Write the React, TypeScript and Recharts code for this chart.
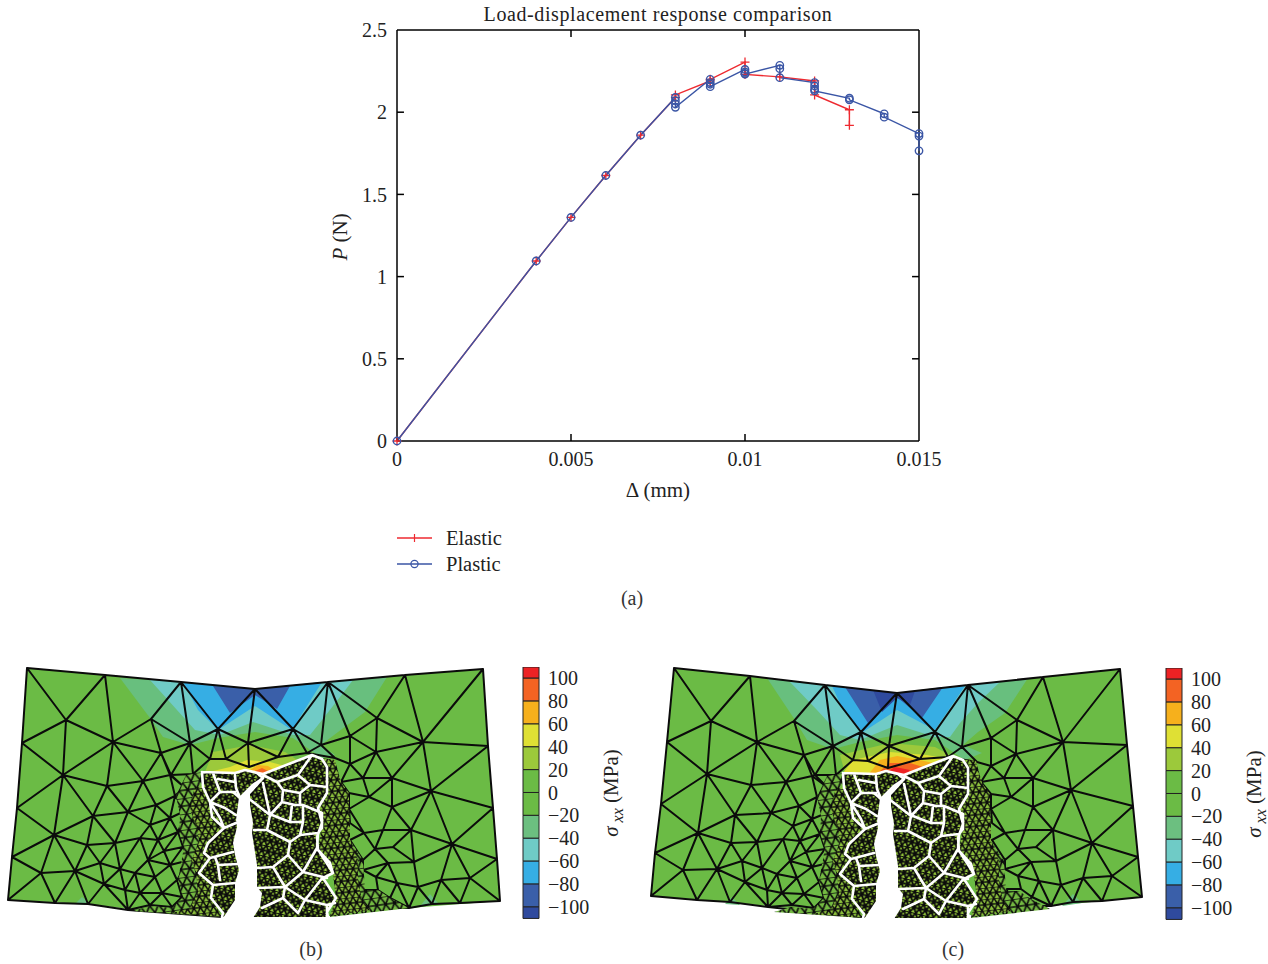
import {
  Bar,
  BarChart,
  Legend,
  Line,
  LineChart,
  ReferenceLine,
  Scatter,
  ScatterChart,
  XAxis,
  YAxis,
} from 'recharts';

const SERIF = '"Liberation Serif", serif';
const RED = '#ee2a30';
const BLUE = '#3a55a5';

// load-displacement curves
const elasticX = [0, 0.004, 0.005, 0.006, 0.007, 0.008, 0.008, 0.009, 0.009, 0.01, 0.01, 0.011, 0.012, 0.012, 0.013, 0.013];
const elasticP = [0, 1.095, 1.36, 1.615, 1.86, 2.09, 2.105, 2.19, 2.2, 2.305, 2.23, 2.215, 2.19, 2.105, 2.015, 1.92];
const plasticX = [0, 0.004, 0.005, 0.006, 0.007, 0.008, 0.008, 0.008, 0.008, 0.009, 0.009, 0.009, 0.009, 0.01, 0.01, 0.01, 0.01, 0.011, 0.011, 0.011, 0.012, 0.012, 0.012, 0.012, 0.013, 0.013, 0.014, 0.014, 0.015, 0.015, 0.015];
const plasticP = [0, 1.095, 1.36, 1.615, 1.86, 2.09, 2.07, 2.05, 2.03, 2.2, 2.18, 2.17, 2.155, 2.26, 2.245, 2.235, 2.232, 2.285, 2.265, 2.21, 2.18, 2.16, 2.14, 2.13, 2.085, 2.075, 1.99, 1.97, 1.87, 1.855, 1.765];
const xTicks = [0, 0.005, 0.01, 0.015];
const yTicks = [0, 0.5, 1, 1.5, 2, 2.5];
const X_MAX = 0.015;
const Y_MAX = 2.5;
// inward tick length in data units, about 7px
const X_TICK_LEN = 0.0002;
const Y_TICK_LEN = 0.043;

// colour scale, stacked outwards from zero
const scaleTicks = [100, 80, 60, 40, 20, 0, -20, -40, -60, -80, -100];
const scaleBands = [20, 20, 20, 20, 20, 10, -20, -20, -20, -20, -20, -10];
const scaleColors = ['#6bbb45', '#9cc93b', '#dfe034', '#f6b01c', '#f36323', '#ed2224', '#6bbb45', '#6cbf80', '#6fcbc6', '#36aee4', '#3a5fa9', '#2f4a9e'];

type Pt = [number, number];

// mesh nodes, panel b
const nodesB: Record<string, Pt> = {
  A: [27, 668], B: [105, 675], C: [181, 682], D: [255, 689], E: [66, 720], F: [22, 743], G: [113, 742], H: [151, 719],
  I: [190, 743], J: [218, 729], K: [248, 743], L: [293, 729], M: [63, 775], N: [17, 808], O: [107, 786], P: [161, 753],
  Q: [143, 781], R: [184, 787], S: [93, 816], T: [128, 812], U: [54, 835], V: [12, 857], W: [8, 900], X: [41, 873],
  Y: [55, 903], Z: [75, 871], a: [87, 845], b: [115, 843], c: [100, 863], d: [104, 884], e: [88, 904], g: [128, 910], h: [120, 869], z: [222, 917],
  v1: [170, 775], v2: [156, 805], v3: [175, 796], v4: [150, 825], v5: [170, 818], v6: [187, 810], v7: [140, 838], v8: [158, 840],
  v9: [178, 832], v10: [193, 825], v11: [164, 851], v12: [183, 847], v13: [199, 840], v14: [148, 860], v15: [170, 865], v16: [190, 860],
  v17: [135, 873], v18: [155, 877], v19: [177, 880], v20: [195, 875], v21: [140, 893], v22: [162, 893], v23: [182, 897], v24: [200, 892],
  v25: [125, 890], v26: [150, 905], v27: [172, 907], v28: [190, 908],
  t1: [210, 759], t2: [226, 759], t3: [278, 757], t4: [249, 767], t5: [307, 753], t6: [171, 775], t7: [193, 774],
  r1: [483, 669], r2: [405, 675], r3: [328, 682], r4: [377, 718], r5: [423, 742], r6: [488, 746], r7: [350, 736], r8: [376, 752],
  r9: [321, 745], r10: [350, 764], r11: [392, 778], r12: [363, 778], r13: [431, 791], r14: [493, 808], r15: [341, 782], r16: [369, 797],
  r17: [392, 807], r18: [349, 793], r19: [349, 809], r20: [350, 823], r21: [411, 830], r22: [383, 830], r23: [364, 833], r24: [452, 844],
  r25: [497, 859], r26: [375, 849], r27: [393, 847], r28: [414, 862], r29: [388, 863], r30: [363, 860], r31: [363, 870], r32: [376, 877],
  r33: [397, 883], r34: [418, 887], r35: [441, 880], r36: [470, 878], r37: [500, 901], r38: [460, 903], r39: [432, 904], r40: [409, 908],
  r41: [390, 898], r42: [378, 890], r43: [365, 890], r44: [367, 900], r45: [380, 908], r46: [350, 840], r47: [335, 758],
};

// mesh nodes, panel c
const nodesC: Record<string, Pt> = {
  A: [674, 668], B: [750, 676], C: [825, 685], D: [897, 693], E: [711, 721], F: [667, 742], G: [757, 742], H: [794, 721],
  I: [833, 746], J: [861, 732], K: [889, 746], L: [935, 732], M: [707, 774], N: [661, 804], O: [751, 785], P: [804, 755],
  Q: [786, 782], R: [827, 787], S: [735, 815], T: [771, 813], U: [698, 833], V: [655, 853], W: [651, 896], X: [683, 870],
  Y: [697, 900], Z: [717, 869], a: [731, 843], b: [757, 842], c: [742, 861], d: [745, 882], e: [730, 902], g: [768, 907], h: [762, 868], z: [862, 917],
  v1: [812, 776], v2: [799, 806], v3: [817, 797], v4: [793, 826], v5: [812, 819], v6: [829, 812], v7: [783, 839], v8: [800, 841],
  v9: [820, 834], v10: [835, 827], v11: [806, 852], v12: [825, 849], v13: [841, 842], v14: [790, 861], v15: [812, 867], v16: [832, 862],
  v17: [777, 874], v18: [797, 878], v19: [819, 882], v20: [837, 877], v21: [782, 893], v22: [804, 894], v23: [824, 898], v24: [842, 894],
  v25: [767, 890], v26: [792, 905], v27: [814, 908], v28: [832, 910],
  t1: [853, 760], t2: [868, 761], t3: [920, 759], t4: [888, 768], t5: [948, 757], t6: [815, 775], t7: [836, 775],
  r1: [1120, 669], r2: [1043, 677], r3: [968, 685], r4: [1017, 720], r5: [1063, 742], r6: [1127, 745], r7: [991, 738], r8: [1016, 754],
  r9: [962, 747], r10: [991, 766], r11: [1033, 778], r12: [1004, 778], r13: [1071, 790], r14: [1133, 806], r15: [981, 782], r16: [1011, 797],
  r17: [1033, 807], r18: [991, 794], r19: [991, 809], r20: [992, 823], r21: [1053, 830], r22: [1025, 830], r23: [1005, 833], r24: [1092, 843],
  r25: [1138, 857], r26: [1018, 849], r27: [1036, 847], r28: [1056, 861], r29: [1031, 862], r30: [1005, 860], r31: [1005, 869], r32: [1018, 876],
  r33: [1039, 881], r34: [1061, 885], r35: [1083, 878], r36: [1112, 876], r37: [1142, 897], r38: [1102, 901], r39: [1073, 902], r40: [1051, 906],
  r41: [1032, 897], r42: [1021, 889], r43: [1007, 889], r44: [1008, 898], r45: [1023, 906], r46: [992, 840], r47: [977, 762],
};

// edges as node chains, same topology in both panels
const meshChains = [
  'A B C D r3 r2 r1 r6 r14 r25 r37 r38 r39 r40 r45', 'A F N V W Y e g z',
  'A E B', 'E F', 'E M', 'E G', 'B G', 'C H G', 'H I', 'H P', 'C I J', 'C J D', 'D K', 'D L r3', 'J K L', 'G P', 'G M', 'G O', 'G Q', 'P Q',
  'F M N', 'M O', 'M S', 'M U', 'O Q', 'O S', 'O T', 'S T', 'Q T', 'N U', 'S U', 'S a', 'S b', 'T b', 'U V', 'U X', 'U Z', 'U a', 'V X W',
  'X Y', 'X Z Y', 'Z e', 'Z c', 'Z a', 'Z d', 'a c', 'a b', 'c b', 'c d e', 'c h', 'b h', 'h d', 'd v25', 'h v25', 'v25 g', 'd g', 'h v17', 'b v7', 'h v7',
  'T v2', 'Q v2', 'Q v1', 'P v1', 'v1 v3', 'v2 v3', 'v2 v5', 'v3 v5', 'v3 v6', 'v5 v6', 'T v4', 'v2 v4', 'v4 v5', 'v4 v7', 'v4 v8', 'v5 v8', 'v5 v9', 'v6 v9', 'v6 v10', 'v9 v10', 'v8 v9', 'v7 v8',
  'v7 v14', 'v8 v11', 'v8 v14', 'v11 v14', 'v9 v12', 'v11 v12', 'v9 v11', 'v12 v13', 'v10 v13', 'v10 v12', 'v12 v16', 'v11 v15', 'v12 v15', 'v13 v16', 'v14 v15', 'v14 v17', 'v14 v18', 'v15 v18', 'v15 v19', 'v15 v16', 'v16 v19', 'v16 v20', 'v19 v20',
  'v17 v18', 'v17 v21', 'v18 v21', 'v18 v22', 'v19 v22', 'v19 v23', 'v20 v23', 'v20 v24', 'v22 v23', 'v21 v22', 'v23 v24', 'v21 v25', 'v17 v25', 'v21 v26', 'v22 v26', 'v22 v27', 'v23 v27', 'v23 v28', 'v24 v28', 'v26 v27', 'v27 v28', 'v21 g', 'v26 g',
  'P I', 'P t6', 'v1 t6', 'v1 R', 'v3 R', 'v6 R', 'I t6', 'I t7', 'I t1', 'J t1', 'J t2', 't1 t7', 't1 t2', 't2 t4', 'K t4', 'K t2', 'K t3', 'L t3', 'L t5', 'L r9', 't3 t4', 't3 t5', 't5 r9', 't5 r47', 't6 t7', 't6 R', 't7 R',
  'r3 r4', 'r3 r7', 'r3 r9', 'r4 r2', 'r4 r5', 'r2 r5', 'r5 r1', 'r5 r6', 'r4 r7', 'r4 r8', 'r7 r8', 'r7 r9', 'r5 r8', 'r8 r11', 'r5 r11', 'r5 r13', 'r11 r13', 'r11 r12', 'r8 r12', 'r8 r10', 'r7 r10', 'r10 r12', 'r10 r47', 'r9 r47', 'r12 r16', 'r12 r15', 'r11 r17', 'r11 r16', 'r13 r6', 'r13 r14', 'r13 r17', 'r13 r21', 'r13 r24', 'r17 r16', 'r17 r21', 'r17 r22', 'r16 r19', 'r16 r18', 'r15 r18', 'r15 r10', 'r18 r19', 'r19 r20', 'r20 r23', 'r19 r23', 'r21 r22', 'r21 r24', 'r21 r28', 'r22 r23', 'r22 r26', 'r24 r14', 'r24 r25', 'r24 r28', 'r24 r35', 'r24 r36', 'r25 r36', 'r36 r37', 'r36 r38', 'r35 r36', 'r35 r38', 'r35 r39', 'r28 r27', 'r28 r29', 'r28 r34', 'r34 r35', 'r34 r39', 'r34 r40', 'r34 r33', 'r33 r40', 'r33 r41', 'r33 r29', 'r33 r32', 'r29 r26', 'r27 r26', 'r27 r21', 'r26 r30', 'r30 r31', 'r31 r32', 'r32 r42', 'r42 r41', 'r41 r40', 'r41 r45', 'r42 r43', 'r43 r44', 'r23 r46', 'r46 r30', 'r23 r26', 'r29 r32', 'r29 r31',
];

// stress bands, drawn back to front
const bandsB: { color: string; pts: Pt[] }[] = [
  { color: '#6bbb45', pts: [[27, 668], [105, 675], [181, 682], [255, 689], [328, 682], [405, 675], [483, 669], [488, 746], [493, 808], [497, 859], [500, 901], [409, 908], [330, 916], [222, 917], [145, 911], [88, 904], [8, 900], [12, 857], [17, 808], [22, 743]] },
  { color: '#68bf7e', pts: [[120, 678], [181, 682], [255, 689], [328, 682], [387, 677], [365, 712], [338, 732], [321, 745], [335, 755], [322, 758], [293, 738], [255, 732], [218, 738], [190, 745], [163, 737], [150, 718]] },
  { color: '#6fcbc6', pts: [[150, 680], [181, 682], [255, 689], [328, 682], [353, 680], [340, 697], [322, 720], [310, 735], [293, 735], [253, 722], [220, 735], [195, 730], [168, 700]] },
  { color: '#36aee4', pts: [[183, 682], [255, 689], [322, 682], [292, 730], [255, 706], [218, 730], [198, 710]] },
  { color: '#3a5fa9', pts: [[213, 686], [255, 689], [290, 686], [277, 709], [255, 695], [230, 713]] },
  { color: '#9cc93b', pts: [[205, 772], [213, 752], [250, 745], [285, 752], [305, 765], [260, 778]] },
  { color: '#dfe034', pts: [[205, 773], [230, 767], [247, 760], [270, 762], [285, 766], [262, 776]] },
  { color: '#f6b01c', pts: [[250, 770], [258, 765], [268, 766], [274, 770], [262, 776]] },
  { color: '#f36323', pts: [[255, 771], [262, 768], [268, 771], [262, 775]] },
  { color: '#6cbf80', pts: [[75, 904], [82, 897], [92, 905]] },
  { color: '#6cbf80', pts: [[420, 906], [430, 894], [438, 903]] },
];
const bandsC: { color: string; pts: Pt[] }[] = [
  { color: '#6bbb45', pts: [[674, 668], [750, 676], [825, 685], [897, 693], [968, 685], [1043, 677], [1120, 669], [1127, 745], [1133, 806], [1138, 857], [1142, 897], [1051, 906], [975, 915], [862, 917], [786, 908], [730, 902], [651, 896], [655, 853], [661, 804], [667, 742]] },
  { color: '#68bf7e', pts: [[767, 678], [825, 685], [897, 693], [968, 685], [1028, 678], [1005, 713], [978, 732], [963, 745], [982, 753], [965, 760], [935, 740], [897, 735], [860, 742], [833, 749], [807, 740], [795, 720]] },
  { color: '#6fcbc6', pts: [[790, 682], [825, 685], [897, 693], [968, 685], [1000, 682], [978, 703], [960, 723], [950, 737], [935, 737], [897, 725], [860, 740], [840, 735], [817, 710]] },
  { color: '#36aee4', pts: [[832, 686], [897, 693], [965, 686], [935, 730], [897, 710], [863, 732], [843, 710]] },
  { color: '#3a5fa9', pts: [[845, 687], [897, 693], [943, 687], [922, 718], [897, 697], [868, 723]] },
  { color: '#2f4a9e', pts: [[873, 690], [897, 693], [915, 691], [910, 705], [897, 698], [882, 712]] },
  { color: '#9cc93b', pts: [[845, 773], [840, 755], [890, 743], [935, 747], [953, 757], [905, 778]] },
  { color: '#dfe034', pts: [[843, 773], [853, 760], [890, 752], [927, 755], [943, 758], [908, 777]] },
  { color: '#f6b01c', pts: [[868, 775], [880, 760], [897, 756], [920, 760], [933, 763], [907, 776]] },
  { color: '#f36323', pts: [[875, 775], [890, 763], [910, 763], [923, 767], [905, 777]] },
  { color: '#ed2224', pts: [[882, 775], [895, 767], [910, 770], [905, 777]] },
  { color: '#6cbf80', pts: [[725, 904], [732, 897], [740, 905]] },
  { color: '#6cbf80', pts: [[1062, 906], [1073, 894], [1082, 903]] },
];

// graded fine mesh beside the crack, panel b
const patchMid: Pt[] = [[186, 775], [176, 796], [180, 815], [179, 832], [184, 847], [178, 880], [183, 897], [172, 908], [150, 906], [133, 911], [222, 917], [212, 898], [213, 885], [199, 873], [210, 858], [204, 853], [208, 843], [224, 828], [213, 802], [203, 785], [202, 772]];
const patchInner: Pt[] = [[194, 790], [190, 810], [196, 825], [199, 840], [192, 860], [196, 875], [198, 892], [190, 908], [172, 913], [222, 917], [212, 898], [213, 885], [199, 873], [210, 858], [204, 853], [208, 843], [224, 828], [213, 802], [203, 785]];
const patchRightMid: Pt[] = [[350, 840], [363, 860], [365, 890], [378, 890], [390, 898], [409, 908], [330, 917], [336, 898], [333, 873]];
const patchRight: Pt[] = [[322, 758], [335, 760], [341, 782], [349, 793], [349, 809], [350, 823], [350, 840], [358, 860], [358, 880], [362, 900], [370, 910], [330, 916], [336, 898], [333, 873], [318, 850], [322, 823], [318, 808], [327, 793]];

// crack region outline and cell walls, panel b
const grainOutline: Pt[] = [[202, 772], [235, 773], [245, 770], [263, 774], [312, 755], [322, 759], [327, 767], [327, 778], [327, 793], [318, 808], [322, 823], [317, 837], [318, 850], [330, 863], [333, 873], [323, 878], [336, 898], [327, 912], [328, 917], [222, 917], [223, 913], [211, 898], [213, 885], [199, 873], [210, 858], [204, 853], [208, 843], [224, 828], [220, 818], [210, 802], [203, 787]];
const crack: Pt[] = [[264, 776], [258, 785], [250, 794], [250, 805], [253, 823], [252, 833], [257, 865], [257, 887], [262, 893], [260, 907], [253, 918], [223, 918], [235, 900], [235, 883], [239, 870], [235, 855], [233, 843], [237, 827], [236, 820], [239, 797], [252, 784]];
const grainWalls: Pt[][] = [
  grainOutline.slice(0, 19),
  grainOutline.slice(19),
  [[202, 772], [203, 787]],
  [[235, 775], [236, 788], [240, 798], [250, 792], [263, 778], [257, 773], [245, 770]],
  [[213, 773], [220, 792], [210, 802]], [[218, 779], [235, 782]], [[220, 792], [235, 792]], [[233, 792], [240, 798]],
  [[210, 802], [225, 808], [236, 815]], [[210, 802], [212, 817], [224, 828], [236, 823]],
  [[210, 858], [233, 852]], [[199, 873], [213, 885], [235, 883]], [[215, 857], [218, 865], [220, 880]], [[218, 865], [238, 864]],
  [[248, 798], [270, 815], [267, 830], [254, 830]], [[263, 783], [270, 815]],
  [[270, 815], [282, 802], [283, 790], [277, 782], [263, 775]], [[277, 782], [298, 775], [312, 755]],
  [[283, 790], [300, 793], [310, 785], [298, 775]], [[310, 785], [327, 787]], [[300, 793], [300, 805]],
  [[282, 802], [295, 805], [303, 805], [322, 813], [322, 828], [318, 833], [300, 835], [290, 842], [267, 830]],
  [[292, 805], [290, 822], [272, 815]], [[290, 822], [303, 822], [303, 807]], [[303, 822], [300, 835]],
  [[290, 842], [288, 855], [273, 867], [257, 868]], [[288, 855], [303, 872], [317, 848], [318, 833]],
  [[317, 848], [333, 873]], [[303, 872], [327, 878]], [[273, 867], [285, 887], [303, 872]], [[285, 887], [257, 888]],
  [[285, 887], [283, 898], [262, 908]], [[283, 898], [298, 913]], [[285, 887], [305, 900], [323, 877]], [[305, 900], [298, 913]],
  [[305, 900], [327, 905], [335, 903]], [[327, 905], [327, 917]],
];

const toRows = (pts: Pt[]) => pts.map(([x, y]) => ({ x, y }));
const noDot = () => null;

// flat list of point pairs, one pair per mesh edge
const chainPairs = (chains: string[], nodes: Record<string, Pt>) => {
  const rows: { x: number; y: number }[] = [];
  chains.forEach((chain) => {
    const keys = chain.split(' ');
    keys.slice(1).forEach((key, i) => {
      const [ax, ay] = nodes[keys[i]];
      const [bx, by] = nodes[key];
      rows.push({ x: ax, y: ay }, { x: bx, y: by });
    });
  });
  return rows;
};
const wallPairs = (walls: Pt[][]) => {
  const rows: { x: number; y: number }[] = [];
  walls.forEach((wall) => {
    wall.slice(1).forEach(([x, y], i) => {
      rows.push({ x: wall[i][0], y: wall[i][1] }, { x, y });
    });
  });
  return rows;
};

const segmentLine = (stroke: string, width: number) => (props: any) => {
  const pts: { x: number; y: number }[] = props.points;
  let d = '';
  for (let i = 0; i + 1 < pts.length; i += 2) {
    d += `M${pts[i].x} ${pts[i].y}L${pts[i + 1].x} ${pts[i + 1].y}`;
  }
  return <path d={d} fill="none" stroke={stroke} strokeWidth={width} strokeLinecap="round" />;
};

// triangle lattice used as texture for the very fine mesh
function Lattice({ id, w, bg, line, width, angle }: { id: string; w: number; bg: string; line: string; width: number; angle: number }) {
  const h = w * 0.87;
  return (
    <pattern id={id} width={w} height={2 * h} patternUnits="userSpaceOnUse" patternTransform={`rotate(${angle})`}>
      <rect width={w} height={2 * h} fill={bg} />
      <path
        d={`M0 0H${w}M0 ${h}H${w}M0 0L${w / 2} ${h}L0 ${2 * h}M${w} 0L${w / 2} ${h}L${w} ${2 * h}`}
        stroke={line}
        strokeWidth={width}
        fill="none"
      />
    </pattern>
  );
}

const meshAxes = (xFrom: number, yFrom: number) => [
  <XAxis key="x" type="number" dataKey="x" domain={[xFrom, xFrom + 520]} hide allowDataOverflow />,
  <YAxis key="y" type="number" dataKey="y" domain={[yFrom, yFrom + 280]} reversed hide allowDataOverflow />,
];

function closedPoly(pts: Pt[], fill: string, key: string) {
  return (
    <Scatter
      key={key}
      data={toRows(pts)}
      line={{ fill, stroke: 'none' }}
      lineJointType="linearClosed"
      shape={noDot}
      isAnimationActive={false}
    />
  );
}

function MeshBase({ left, nodes, bands, id }: { left: number; nodes: Record<string, Pt>; bands: { color: string; pts: Pt[] }[]; id: string }) {
  return (
    <div style={{ position: 'absolute', left, top: 650 }}>
      <ScatterChart width={520} height={280} margin={{ top: 0, right: 0, bottom: 0, left: 0 }}>
        {meshAxes(left, 650)}
        {bands.map((band, i) => closedPoly(band.pts, band.color, `band${id}${i}`))}
        <Scatter
          data={chainPairs(meshChains, nodes)}
          line={segmentLine('#0b0b0b', 2)}
          shape={noDot}
          isAnimationActive={false}
        />
      </ScatterChart>
    </div>
  );
}

function MeshFine({ left, top, id }: { left: number; top: number; id: string }) {
  return (
    <div style={{ position: 'absolute', left, top }}>
      <ScatterChart width={520} height={280} margin={{ top: 0, right: 0, bottom: 0, left: 0 }}>
        <defs>
          <Lattice id={`mid${id}`} w={9} bg="#74ba42" line="#0b0b0b" width={1.6} angle={-8} />
          <Lattice id={`fin${id}`} w={6.5} bg="#8cc03c" line="#0b0b0b" width={1.5} angle={-6} />
          <Lattice id={`grn${id}`} w={6} bg="#93c43a" line="#0b0b0b" width={1.8} angle={14} />
        </defs>
        {meshAxes(0, 650)}
        {closedPoly(patchMid, `url(#mid${id})`, 'pm')}
        {closedPoly(patchInner, `url(#fin${id})`, 'pf')}
        {closedPoly(patchRightMid, `url(#mid${id})`, 'prm')}
        {closedPoly(patchRight, `url(#fin${id})`, 'pr')}
        {closedPoly(grainOutline, `url(#grn${id})`, 'pg')}
        {closedPoly(crack, '#ffffff', 'pc')}
        <Scatter data={wallPairs(grainWalls)} line={segmentLine('#ffffff', 2.6)} shape={noDot} isAnimationActive={false} />
      </ScatterChart>
    </div>
  );
}

function ColorScale({ left, top }: { left: number; top: number }) {
  const row: Record<string, number | string> = { name: 'scale' };
  scaleBands.forEach((v, i) => {
    row[`band${i}`] = v;
  });
  return (
    <div style={{ position: 'absolute', left, top }}>
      <BarChart
        width={139}
        height={280}
        data={[row]}
        stackOffset="sign"
        barCategoryGap={0}
        margin={{ top: 17, right: 0, bottom: 11, left: 23 }}
      >
        <XAxis dataKey="name" hide />
        <YAxis
          orientation="right"
          width={100}
          domain={[-110.5, 109.6]}
          ticks={scaleTicks}
          interval={0}
          axisLine={false}
          tickLine={false}
          tickMargin={9}
          tickSize={0}
          allowDataOverflow
          tickFormatter={(v: number) => (v < 0 ? `\u2212${-v}` : `${v}`)}
          tick={{ fill: '#222', fontSize: 20, fontFamily: SERIF, textAnchor: 'start' }}
        />
        {scaleBands.map((_, i) => (
          <Bar key={i} dataKey={`band${i}`} stackId="s" fill={scaleColors[i]} stroke="#222" strokeWidth={1} isAnimationActive={false} />
        ))}
        <text transform="translate(118,143) rotate(-90)" textAnchor="middle" fontFamily={SERIF} fontSize={21} fill="#222">
          <tspan fontStyle="italic">{'\u03c3'}</tspan>
          <tspan fontStyle="italic" fontSize={16} dy={5}> xx</tspan>
          <tspan dy={-5}> (MPa)</tspan>
        </text>
      </BarChart>
    </div>
  );
}

const PlusDot = (props: any) => (
  <path
    key={props.index}
    d={`M${props.cx - 4.5} ${props.cy}H${props.cx + 4.5}M${props.cx} ${props.cy - 4.5}V${props.cy + 4.5}`}
    stroke={RED}
    strokeWidth={1.3}
    fill="none"
  />
);

function LegendBox({ payload }: any) {
  return (
    <div>
      {(payload ?? []).map((item: any) => (
        <div key={item.value} style={{ position: 'relative', height: 26, width: 180 }}>
          <svg width={36} height={26} style={{ position: 'absolute', left: 0, top: 0 }}>
            <line x1={0} x2={35} y1={13} y2={13} stroke={item.color} strokeWidth={1.3} />
            {item.value === 'Elastic' ? (
              <path d="M17.5 9V17" stroke={item.color} strokeWidth={1.2} />
            ) : (
              <circle cx={17.5} cy={13} r={3.6} fill="none" stroke={item.color} strokeWidth={1.2} />
            )}
          </svg>
          <span style={{ position: 'absolute', left: 49, top: 0, lineHeight: '26px', fontFamily: SERIF, fontSize: 20.5, color: '#222' }}>
            {item.value}
          </span>
        </div>
      ))}
    </div>
  );
}

function ResponseChart() {
  const elastic = elasticX.map((x, i) => ({ x, p: elasticP[i] }));
  const plastic = plasticX.map((x, i) => ({ x, p: plasticP[i] }));
  const tickStyle = { fill: '#222', fontSize: 20, fontFamily: SERIF };
  const frame = { stroke: '#000', strokeWidth: 1.5 };
  return (
    <div style={{ position: 'absolute', left: 300, top: 0 }}>
      <LineChart width={660} height={585} margin={{ top: 30, right: 41, bottom: 0, left: 0 }}>
        <XAxis
          type="number"
          dataKey="x"
          domain={[0, X_MAX]}
          ticks={xTicks}
          interval={0}
          height={92}
          stroke="#000"
          strokeWidth={1.5}
          tickLine={false}
          tickSize={0}
          tickMargin={11}
          tick={tickStyle}
        />
        <YAxis
          type="number"
          dataKey="p"
          domain={[0, Y_MAX]}
          ticks={yTicks}
          interval={0}
          width={97}
          stroke="#000"
          strokeWidth={1.5}
          tickLine={false}
          tickSize={0}
          tickMargin={10}
          tick={tickStyle}
        />
        <ReferenceLine x={X_MAX} {...frame} />
        <ReferenceLine y={Y_MAX} {...frame} />
        {xTicks.slice(1, -1).map((x) => (
          <ReferenceLine key={`b${x}`} segment={[{ x, y: 0 }, { x, y: Y_TICK_LEN }]} {...frame} />
        ))}
        {xTicks.slice(1, -1).map((x) => (
          <ReferenceLine key={`t${x}`} segment={[{ x, y: Y_MAX }, { x, y: Y_MAX - Y_TICK_LEN }]} {...frame} />
        ))}
        {yTicks.slice(1, -1).map((y) => (
          <ReferenceLine key={`l${y}`} segment={[{ x: 0, y }, { x: X_TICK_LEN, y }]} {...frame} />
        ))}
        {yTicks.slice(1, -1).map((y) => (
          <ReferenceLine key={`r${y}`} segment={[{ x: X_MAX, y }, { x: X_MAX - X_TICK_LEN, y }]} {...frame} />
        ))}
        <Line name="Elastic" data={elastic} dataKey="p" stroke={RED} strokeWidth={1.4} dot={PlusDot} isAnimationActive={false} />
        <Line
          name="Plastic"
          data={plastic}
          dataKey="p"
          stroke={BLUE}
          strokeWidth={1.4}
          dot={{ r: 3.7, fill: 'none', stroke: BLUE, strokeWidth: 1.4 }}
          isAnimationActive={false}
        />
        <Legend
          content={LegendBox}
          verticalAlign="bottom"
          align="left"
          wrapperStyle={{ position: 'absolute', left: 97, top: 525, width: 200, height: 52 }}
        />
        <text x={358} y={21} textAnchor="middle" fontFamily={SERIF} fontSize={20} letterSpacing={0.6} fill="#222">
          Load-displacement response comparison
        </text>
        <text x={358} y={497} textAnchor="middle" fontFamily={SERIF} fontSize={21} fill="#222">
          {'\u0394 (mm)'}
        </text>
        <text transform="translate(47,237) rotate(-90)" textAnchor="middle" fontFamily={SERIF} fontSize={21} fill="#222">
          <tspan fontStyle="italic">P</tspan> (N)
        </text>
      </LineChart>
    </div>
  );
}

const Caption = ({ x, y, text }: { x: number; y: number; text: string }) => (
  <div style={{ position: 'absolute', left: x - 30, top: y - 12, width: 60, textAlign: 'center', fontFamily: SERIF, fontSize: 20, lineHeight: '24px', color: '#333' }}>
    {text}
  </div>
);

export default function App() {
  return (
    <div style={{ position: 'absolute', left: 0, top: 0, width: 1268, height: 964, overflow: 'hidden', background: '#fff' }}>
      <ResponseChart />
      <MeshBase left={0} nodes={nodesB} bands={bandsB} id="b" />
      <MeshFine left={0} top={650} id="b" />
      <MeshBase left={640} nodes={nodesC} bands={bandsC} id="c" />
      <MeshFine left={641} top={651} id="c" />
      <ColorScale left={500} top={650} />
      <ColorScale left={1143} top={651} />
      <Caption x={632} y={598} text="(a)" />
      <Caption x={311} y={949} text="(b)" />
      <Caption x={953} y={949} text="(c)" />
    </div>
  );
}
